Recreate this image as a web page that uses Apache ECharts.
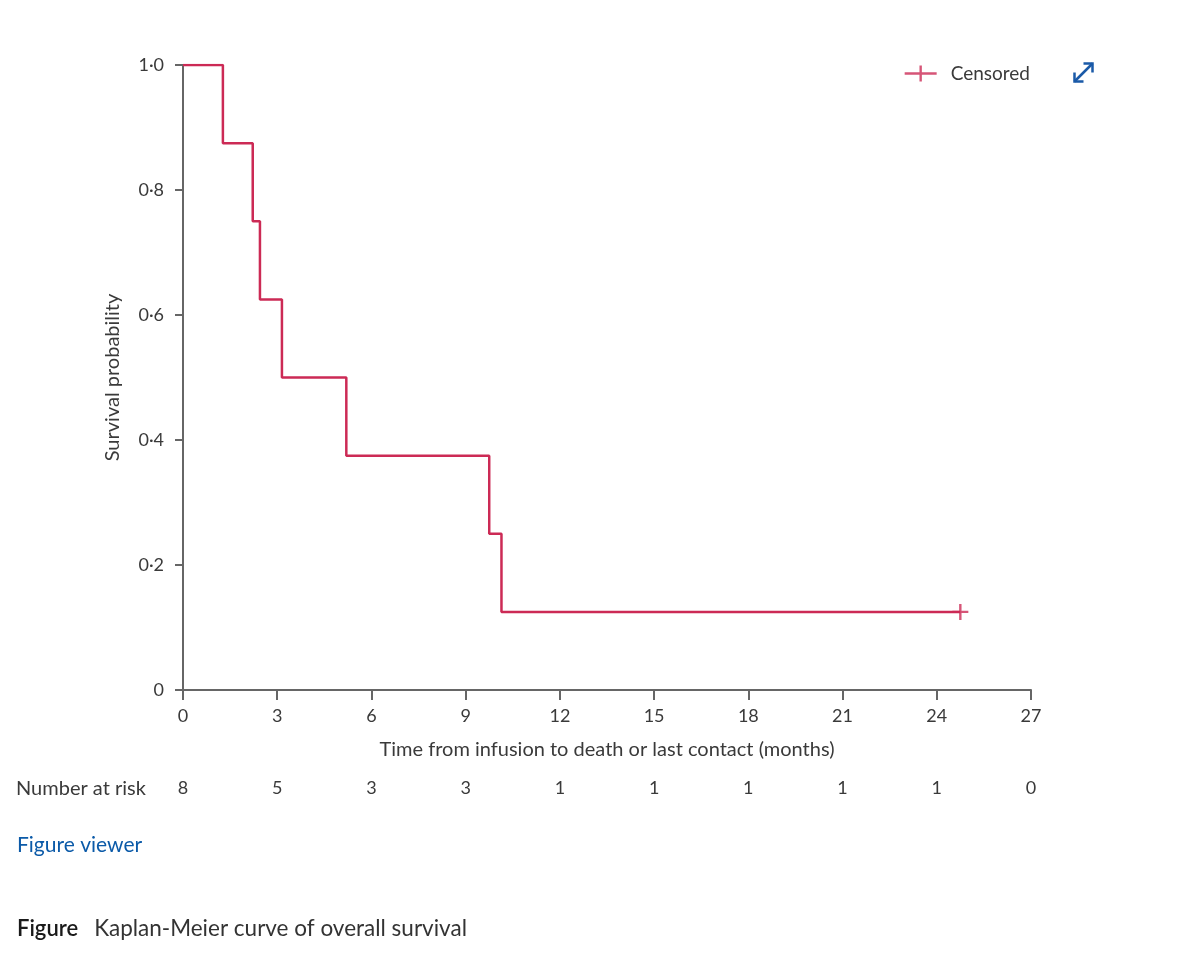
<!DOCTYPE html>
<html>
<head>
<meta charset="utf-8">
<script src="https://cdn.jsdelivr.net/npm/echarts@6/dist/echarts.min.js"></script>
<style>
html,body{margin:0;padding:0;background:#fff;}
#chart{width:1200px;height:965px;}
</style>
</head>
<body>
<div id="chart"></div>
<script>
// ---- data ----
var eventTimes = [0, 1.27, 2.22, 2.45, 3.15, 5.2, 9.75, 10.14, 24.75];
var survival   = [1, 0.875, 0.75, 0.625, 0.5, 0.375, 0.25, 0.125, 0.125];
var censorTimes = [24.75];
var censorSurv  = [0.125];
var riskTimes  = [0, 3, 6, 9, 12, 15, 18, 21, 24, 27];
var riskCounts = [8, 5, 3, 3, 1, 1, 1, 1, 1, 0];

var FONT = 'Lato, "Noto Sans", sans-serif';
var RED = '#cc2a55';
var AX = '#666';
var TXT = '#3a3a3a';

var kmData = eventTimes.map(function (t, i) { return [t, survival[i]]; });
var censorData = censorTimes.map(function (t, i) { return [t, censorSurv[i]]; });
var riskMap = {};
riskTimes.forEach(function (t, i) { riskMap[t] = riskCounts[i]; });

var crossPath = 'path://M0,6.8h16v2.4h-16z M6.8,0h2.4v16h-2.4z';
var legendPath = 'path://M0,6.8h32v2.4h-32z M14.8,0h2.4v16h-2.4z';

var chart = echarts.init(document.getElementById('chart'));
chart.setOption({
  animation: false,
  backgroundColor: '#fff',
  grid: { left: 183, right: 169, top: 65, bottom: 275, containLabel: false },
  legend: {
    data: [{ name: 'Censored', icon: legendPath }],
    right: 170, top: 64, padding: 0,
    itemWidth: 32, itemHeight: 16, itemGap: 10,
    textStyle: { fontFamily: FONT, fontSize: 19, color: TXT, padding: [0, 0, 0, 9] }
  },
  xAxis: [{
    type: 'value', min: 0, max: 27, interval: 3,
    axisLine: { show: true, onZero: false, lineStyle: { color: AX, width: 2 } },
    axisTick: { show: true, length: 10, lineStyle: { color: AX, width: 2 } },
    splitLine: { show: false },
    axisLabel: { margin: 17, fontFamily: FONT, fontSize: 18, color: TXT },
    name: 'Time from infusion to death or last contact (months)',
    nameLocation: 'middle', nameGap: 50,
    nameTextStyle: { fontFamily: FONT, fontSize: 20, color: TXT }
  }, {
    type: 'value', min: 0, max: 27, interval: 3, position: 'bottom', offset: 82,
    axisLine: { show: false }, axisTick: { show: false }, splitLine: { show: false },
    axisLabel: {
      margin: 7, fontFamily: FONT, fontSize: 18, color: TXT,
      formatter: function (v) { return riskMap[v] !== undefined ? String(riskMap[v]) : ''; }
    }
  }],
  yAxis: {
    type: 'value', min: 0, max: 1, interval: 0.2,
    axisLine: { show: true, lineStyle: { color: AX, width: 2 } },
    axisTick: { show: true, length: 8, lineStyle: { color: AX, width: 2 } },
    splitLine: { show: false },
    axisLabel: {
      margin: 19, fontFamily: FONT, fontSize: 18, color: TXT,
      formatter: function (v) { return v === 0 ? '0' : v.toFixed(1).replace('.', '\u00b7'); }
    },
    name: 'Survival probability', nameLocation: 'middle', nameGap: 60,
    nameTextStyle: { fontFamily: FONT, fontSize: 20, color: TXT }
  },
  series: [{
    name: 'KM', type: 'line', step: 'end', data: kmData,
    showSymbol: false, symbol: 'none',
    lineStyle: { color: RED, width: 2.5 },
    itemStyle: { color: RED }
  }, {
    name: 'Censored', type: 'scatter', data: censorData,
    symbol: crossPath, symbolSize: 16,
    itemStyle: { color: RED }
  }],
  graphic: [{
    type: 'text', left: 16, top: 779,
    style: { text: 'Number at risk', font: '20px ' + FONT, fill: TXT }
  }, {
    type: 'text', left: 17, top: 835,
    style: { text: 'Figure viewer', font: '21px ' + FONT, fill: '#0b5aa8' }
  }, {
    type: 'text', left: 17, top: 917,
    style: {
      text: '{b|Figure}{r|Kaplan-Meier curve of overall survival}',
      rich: {
        b: { font: '600 22px ' + FONT, fill: '#1a1a1a', padding: [0, 16, 0, 0] },
        r: { font: '22.5px ' + FONT, fill: '#333' }
      }
    }
  }, {
    type: 'group', left: 1072, top: 61,
    children: [{
      type: 'polyline', shape: { points: [[2, 20], [20, 2]] },
      style: { stroke: '#1a5aa8', lineWidth: 2.5, fill: null }
    }, {
      type: 'polyline', shape: { points: [[11, 2], [20, 2], [20, 11]] },
      style: { stroke: '#1a5aa8', lineWidth: 2.5, fill: null }
    }, {
      type: 'polyline', shape: { points: [[2, 11], [2, 20], [11, 20]] },
      style: { stroke: '#1a5aa8', lineWidth: 2.5, fill: null }
    }]
  }]
});
</script>
</body>
</html>
